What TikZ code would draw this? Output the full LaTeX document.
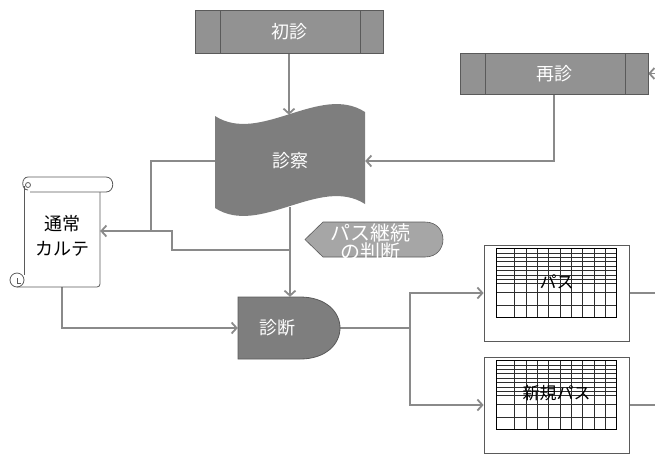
\documentclass[tikz,border=0pt]{standalone}
\usepackage{fontspec}
\newfontfamily\jpfont{Noto Sans CJK JP}
\usetikzlibrary{arrows.meta,calc}
\pgfdeclarelayer{back}
\pgfsetlayers{back,main}
\definecolor{linegray}{HTML}{8A8A8A}
\definecolor{boxgray}{HTML}{929292}
\definecolor{darkfill}{HTML}{7E7E7E}
\definecolor{lightfill}{HTML}{A6A6A6}
\definecolor{edgegray}{HTML}{5A5A5A}
\definecolor{gridgray}{HTML}{2E2E2E}
\tikzset{
  txt/.style={font=\jpfont\fontsize{18}{20}\selectfont, inner sep=0pt},
  proc/.style={txt, rectangle, draw=edgegray, fill=boxgray, text=white,
    minimum width=188pt, minimum height=43pt,
    path picture={
      \draw[edgegray] ([xshift=25pt]path picture bounding box.north west) -- ([xshift=25pt]path picture bounding box.south west);
      \draw[edgegray] ([xshift=-23pt]path picture bounding box.north east) -- ([xshift=-23pt]path picture bounding box.south east);}},
  conn/.style={draw=linegray, line width=1.8pt},
  arr/.style={conn, -{Straight Barb[length=5pt,width=11pt]}},
  sheet/.style={rectangle, draw=edgegray, line width=0.8pt, minimum width=145pt, minimum height=96pt},
  scrollline/.style={draw=edgegray, line width=0.8pt},
}

\begin{document}
\begin{tikzpicture}[x=1pt, y=-1pt]
\useasboundingbox (0,0) rectangle (655,453);
% visits
\node[proc] (shoshin) at (289,31.5) {初診};
\node[proc, minimum height=41pt] (saishin) at (554,73.5) {再診};
% exam (tape)
\fill[darkfill] (215,116) .. controls (260,145) and (320,83) .. (365,112) -- (365,204)
  .. controls (320,175) and (260,237) .. (215,208) -- cycle;
\node[txt, text=white, minimum width=150pt, minimum height=92pt] (shinsatsu) at (290,161) {診察};
% diagnosis (delay)
\filldraw[fill=darkfill, draw=edgegray, line width=0.8pt] (238,297) -- (300,297)
  .. controls (326,297) and (340,312) .. (340,328)
  .. controls (340,344) and (326,359) .. (300,359) -- (238,359) -- cycle;
\node[txt, text=white, minimum width=78pt, minimum height=62pt] (shindan) at (277,328) {診断};
% decision (display)
\filldraw[fill=lightfill, draw=edgegray, line width=0.6pt] (305,239.5) -- (323,222) -- (425,222)
  .. controls (449,222) and (449,257) .. (425,257) -- (323,257) -- cycle;
\node[txt, text=white, align=center, font=\jpfont\fontsize{20}{19}\selectfont] (hantei) at (370,242) {パス継続\\の判断};
% karte (scroll)
\draw[scrollline] (24,186) -- (24,275);
\draw[scrollline, rounded corners=3pt] (17,287) -- (100,287) -- (100,192);
\draw[scrollline] (28,177) -- (106,177) .. controls (115,177) and (115,192) .. (106,192) -- (30,192);
\draw[scrollline] (28,177) .. controls (21,177) and (21,190) .. (28,190);
\draw[scrollline] (28,185) circle[radius=2.5pt];
\draw[scrollline] (17,280) circle[radius=7pt];
\draw[scrollline] (21,283) -- (17,283) -- (17,278);
\node[txt, align=center, minimum width=76pt, minimum height=102pt, font=\jpfont\fontsize{18}{25}\selectfont] (karte) at (62,236) {通常\\カルテ};
% path sheets
\node[sheet] (pasu) at (556.5,293) {};
\node[sheet] (shinki) at (556.5,405) {};
\foreach \b in {pasu,shinki}{
  \begin{scope}[shift={($(\b.north west)+(13,4)$)}, draw=gridgray, line width=0.6pt]
    \foreach \y in {4.4,8.75,13.1,17.5,21.9,26.25,30.6,35,43.7,56.3}
      \draw (0,\y) -- (120,\y);
    \draw (18,0) -- (18,69);
    \foreach \k in {1,...,8}
      \draw ({18+\k*11.33},0) -- ++(0,69);
    \draw[line width=1.1pt, draw=black] (0,0) rectangle (120,69);
  \end{scope}
}
\node[txt, font=\jpfont\fontsize{17}{19}\selectfont] (pasulbl) at ([yshift=11pt]pasu.center) {パス};
\node[txt, font=\jpfont\fontsize{17}{19}\selectfont] (shinkilbl) at ([yshift=12pt]shinki.center) {新規パス};
% connectors
\begin{pgfonlayer}{back}
\coordinate (jn1) at (151,231);
\coordinate (jog) at (172,231);
\coordinate (tap) at (290,250);
\coordinate (fork) at (410,328);
\coordinate (offsai) at (680,73.5);
\draw[arr] (shoshin.south) -- (shoshin.south |- shinsatsu.north);
\draw[arr] (saishin.south) |- (shinsatsu.east);
\draw[arr] (offsai) -- (saishin.east);
\draw[arr] (shinsatsu.south) -- (shinsatsu.south |- shindan.north);
\draw[arr] (shinsatsu.west) -| (jn1) -- (jn1 -| karte.east);
\draw[conn] (tap) -| (jog) -- (jn1);
\draw[arr] (karte.south) |- (shindan.west);
\draw[conn] (shindan.east) -- (fork);
\draw[arr] (fork) |- (pasu.west);
\draw[arr] (fork) |- (shinki.west);
\draw[conn] (pasu.east) -- ++(40,0);
\draw[conn] (shinki.east) -- ++(40,0);
\end{pgfonlayer}
\end{tikzpicture}
\end{document}
